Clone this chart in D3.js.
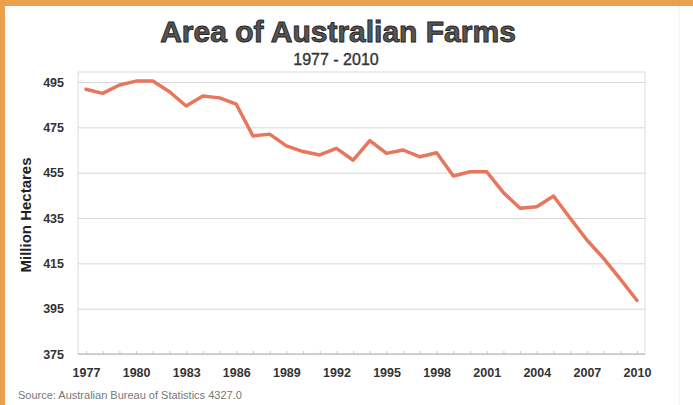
<!DOCTYPE html>
<html>
<head>
<meta charset="utf-8">
<script src="https://cdn.jsdelivr.net/npm/d3@7"></script>
<style>
body{margin:0;background:#fff;}
svg{display:block;font-family:"Liberation Sans",Arial,sans-serif;}
</style>
</head>
<body>
<div id="chart"></div>
<script>
// data (million hectares)
const years = d3.range(1977, 2011)
const area = [491.8, 490, 493.7, 495.4, 495.4, 490.7, 484.4, 488.8, 488, 485.2,
	471.2, 472, 466.8, 464.3, 462.8, 465.7, 460.5, 469.1, 463.5, 465,
	462, 463.8, 453.5, 455.4, 455.4, 446.2, 439.3, 440, 444.7, 434.9,
	425.3, 417.2, 408, 398.6]
const yTicks = [375, 395, 415, 435, 455, 475, 495]
const xTicks = [1977, 1980, 1983, 1986, 1989, 1992, 1995, 1998, 2001, 2004, 2007, 2010]

const W = 693, H = 405
const plot = {left: 78, right: 645, top: 72, bottom: 354}

const svg = d3.select("#chart").append("svg")
	.attr("width", W)
	.attr("height", H)

// orange frame of the page
svg.append("rect").attr("x", 0).attr("y", 0).attr("width", W).attr("height", 6).attr("fill", "#eaa04c")
svg.append("rect").attr("x", 0).attr("y", 0).attr("width", 5).attr("height", H).attr("fill", "#eaa04c")
svg.append("line").attr("x1", 679).attr("x2", 679).attr("y1", 6).attr("y2", H)
	.attr("stroke", "#f0f0f0")

const x = d3.scaleLinear().domain([1977, 2010]).range([86, 637])
const y = d3.scaleLinear().domain([375, 495]).range([plot.bottom, 82])

// plot frame
svg.append("rect")
	.attr("x", plot.left).attr("y", plot.top)
	.attr("width", plot.right - plot.left).attr("height", plot.bottom - plot.top)
	.attr("fill", "none").attr("stroke", "#dcdcdc")

// gridlines + y labels
const yAxis = svg.append("g")
	.attr("transform", `translate(${plot.left},0)`)
	.call(d3.axisLeft(y).tickValues(yTicks).tickSize(-(plot.right - plot.left)).tickPadding(14))
yAxis.select(".domain").remove()
yAxis.selectAll(".tick line").attr("stroke", "#d8d8d8")
yAxis.selectAll(".tick text")
	.attr("fill", "#333").style("font-size", "12.5px").style("font-weight", "bold")
	.style("font-family", "'Liberation Sans',Arial,sans-serif")

// x axis
const xAxis = svg.append("g")
	.attr("transform", `translate(0,${plot.bottom})`)
	.call(d3.axisBottom(x).tickValues(years).tickSize(-3).tickPadding(14).tickFormat(d => xTicks.includes(d) ? d : ""))
xAxis.select(".domain").attr("stroke", "#bbb").attr("d", `M${plot.left},0H${plot.right}`)
xAxis.selectAll(".tick line").attr("stroke", "#c8c8c8")
xAxis.selectAll(".tick text")
	.attr("fill", "#333").style("font-size", "12.5px").style("font-weight", "bold")
	.style("font-family", "'Liberation Sans',Arial,sans-serif")

// the series
const line = d3.line().x((d, i) => x(years[i])).y(d => y(d))
svg.append("path")
	.datum(area)
	.attr("d", line)
	.attr("fill", "none")
	.attr("stroke", "#e8765c")
	.attr("stroke-width", 3.5)
	.attr("stroke-linejoin", "round")
	.attr("stroke-linecap", "round")

// titles
svg.append("text")
	.attr("x", 338).attr("y", 42)
	.attr("text-anchor", "middle")
	.attr("fill", "#555").attr("stroke", "#222").attr("stroke-width", 0.9)
	.style("font-size", "30px").style("font-weight", "bold")
	.text("Area of Australian Farms")
svg.append("text")
	.attr("x", 336).attr("y", 65)
	.attr("text-anchor", "middle")
	.attr("fill", "#333").attr("stroke", "#333").attr("stroke-width", 0.35)
	.style("font-size", "16px")
	.text("1977 - 2010")

svg.append("text")
	.attr("transform", "translate(31,215) rotate(-90)")
	.attr("text-anchor", "middle")
	.attr("fill", "#222")
	.style("font-size", "15px").style("font-weight", "bold")
	.text("Million Hectares")

svg.append("text")
	.attr("x", 18).attr("y", 399)
	.attr("fill", "#777")
	.style("font-size", "11px")
	.text("Source: Australian Bureau of Statistics 4327.0")
</script>
</body>
</html>
